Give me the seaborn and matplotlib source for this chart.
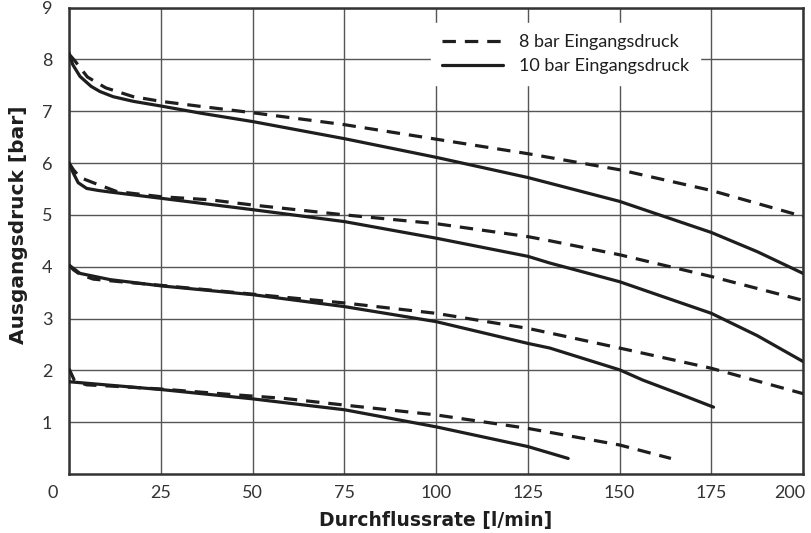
import matplotlib
matplotlib.use("Agg")
import matplotlib.pyplot as plt
import matplotlib.transforms as mtransforms
from matplotlib.lines import Line2D
import seaborn as sns

# ---- data ----
# 8 bar Eingangsdruck (dashed)
d8_1_x = [0, 1.5, 5, 10, 17.5, 25, 35, 50, 75, 100, 125, 150, 175, 200]
d8_1_y = [8.1, 7.98, 7.66, 7.45, 7.28, 7.19, 7.10, 6.97, 6.74, 6.46, 6.18, 5.87, 5.47, 4.97]
d8_2_x = [0, 1.2, 3, 6.6, 13, 25, 38.4, 50, 75, 100, 125, 131, 150, 175, 200]
d8_2_y = [6.0, 5.87, 5.72, 5.62, 5.45, 5.35, 5.29, 5.19, 5.0, 4.83, 4.58, 4.50, 4.23, 3.81, 3.35]
d8_3_x = [0, 1.2, 3, 6.6, 13.9, 25, 50, 75, 100, 125, 131, 150, 175, 200]
d8_3_y = [4.03, 3.94, 3.85, 3.76, 3.71, 3.64, 3.47, 3.30, 3.10, 2.81, 2.72, 2.43, 2.04, 1.55]
d8_4_x = [0, 1.5, 4.8, 13, 25, 44.8, 58.4, 75, 100, 125, 150, 164]
d8_4_y = [2.03, 1.80, 1.72, 1.69, 1.64, 1.53, 1.46, 1.33, 1.14, 0.88, 0.56, 0.30]

# 10 bar Eingangsdruck (solid)
d10_1_x = [0, 1, 3, 6, 8.4, 12, 17.5, 25, 36, 50, 75, 100, 125, 131, 150, 175, 187.5, 200]
d10_1_y = [8.12, 7.9, 7.67, 7.48, 7.38, 7.28, 7.19, 7.10, 6.96, 6.80, 6.47, 6.11, 5.72, 5.61, 5.26, 4.66, 4.29, 3.87]
d10_2_x = [0, 1.2, 2.5, 4.8, 8, 11.2, 25, 50, 75, 100, 125, 131, 150, 175, 187.5, 200]
d10_2_y = [6.0, 5.80, 5.62, 5.51, 5.47, 5.44, 5.32, 5.10, 4.87, 4.55, 4.20, 4.07, 3.71, 3.10, 2.67, 2.17]
d10_3_x = [0, 3, 11.2, 25, 50, 75, 100, 125, 131, 150, 156.4, 166.5, 175.6]
d10_3_y = [4.03, 3.87, 3.75, 3.63, 3.46, 3.23, 2.94, 2.52, 2.43, 2.01, 1.81, 1.54, 1.29]
d10_4_x = [0, 25, 50, 63, 75, 100, 125, 136]
d10_4_y = [1.78, 1.63, 1.45, 1.34, 1.24, 0.91, 0.53, 0.30]

x_ticks = [0, 25, 50, 75, 100, 125, 150, 175, 200]
y_ticks = [1, 2, 3, 4, 5, 6, 7, 8, 9]
legend_labels = ["8 bar Eingangsdruck", "10 bar Eingangsdruck"]
x_label = "Durchflussrate [l/min]"
y_label = "Ausgangsdruck [bar]"

# ---- style ----
sns.set_theme(style="white")
plt.rcParams["font.family"] = ["Lato", "DejaVu Sans"]
ink = "#1e1e1e"
grid_c = "#555555"
lw = 2.3
dash = (4.2, 2.8)

fig = plt.figure(figsize=(8.12, 5.33), dpi=100)
ax = fig.add_axes([0.085, 0.1107, 0.904, 0.8752])

dashed_sets = [(d8_1_x, d8_1_y), (d8_2_x, d8_2_y), (d8_3_x, d8_3_y), (d8_4_x, d8_4_y)]
solid_sets = [(d10_1_x, d10_1_y), (d10_2_x, d10_2_y), (d10_3_x, d10_3_y), (d10_4_x, d10_4_y)]

for xs, ys in dashed_sets:
    sns.lineplot(x=xs, y=ys, ax=ax, color=ink, linewidth=lw, sort=False,
                 estimator=None, zorder=3)
    ax.lines[-1].set_dashes(dash)
for xs, ys in solid_sets:
    sns.lineplot(x=xs, y=ys, ax=ax, color=ink, linewidth=lw, sort=False,
                 estimator=None, zorder=3)

ax.set_xlim(0, 200)
ax.set_ylim(0, 9)
ax.set_xticks(x_ticks)
ax.set_xticklabels([str(v) for v in x_ticks])
ax.set_yticks(y_ticks)
ax.set_yticklabels([str(v) for v in y_ticks])
ax.grid(True, color=grid_c, linewidth=1.0, zorder=0)
ax.set_axisbelow(True)
for s in ax.spines.values():
    s.set_visible(True)
    s.set_color("#333333")
    s.set_linewidth(1.8)
ax.tick_params(axis="both", length=0, labelsize=13, labelcolor="#333333")
ax.tick_params(axis="x", pad=8)
ax.tick_params(axis="y", pad=12)

# shift first and last x tick labels like the reference
xl = ax.get_xticklabels()
xl[0].set_transform(xl[0].get_transform() + mtransforms.ScaledTranslation(-16 / 100, 0, fig.dpi_scale_trans))
xl[-1].set_transform(xl[-1].get_transform() + mtransforms.ScaledTranslation(-13 / 100, 0, fig.dpi_scale_trans))

lab_font = ["DejaVu Sans"]
ax.set_xlabel(x_label, fontsize=13.5, fontweight="bold", color=ink, family=lab_font)
ax.set_ylabel(y_label, fontsize=14.5, fontweight="bold", color=ink, family=lab_font)
ax.xaxis.set_label_coords(0.5, -0.079)
ax.yaxis.set_label_coords(-0.056, 0.534)

handles = [Line2D([], [], color=ink, linewidth=lw, dashes=dash),
           Line2D([], [], color=ink, linewidth=lw)]
leg = ax.legend(handles, legend_labels, loc="upper left", bbox_to_anchor=(0.493, 0.966),
                frameon=True, fontsize=13, handlelength=3.4, handletextpad=0.9,
                labelspacing=0.45, borderpad=0.6, borderaxespad=0, fancybox=False)
leg.get_frame().set_facecolor("white")
leg.get_frame().set_edgecolor("white")
leg.get_frame().set_alpha(1.0)
for t in leg.get_texts():
    t.set_color(ink)
leg.set_zorder(2)

fig.savefig("out.png", dpi=100)
